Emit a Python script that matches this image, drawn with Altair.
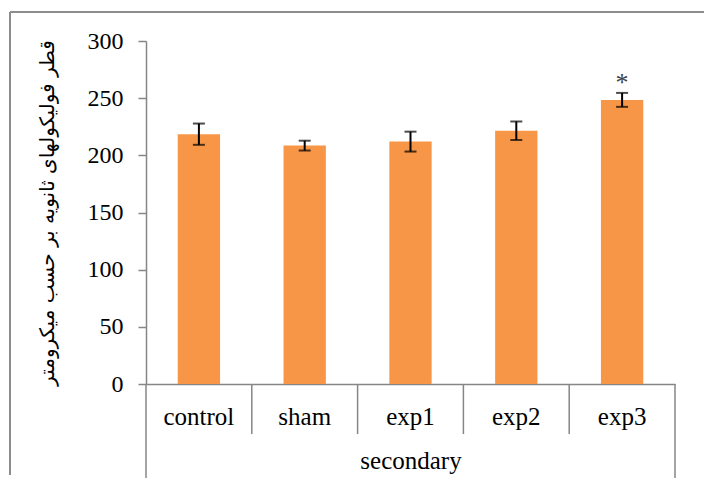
import altair as alt
import pandas as pd

categories = ["control", "sham", "exp1", "exp2", "exp3"]
means = [218.5, 208.5, 212.0, 221.5, 248.5]
errors = [9.3, 4.3, 8.7, 8.1, 6.1]
marks = ["", "", "", "", "*"]
y_ticks = [0, 50, 100, 150, 200, 250, 300]
y_title = "قطر فولیکولهای ثانویه بر حسب میکرومتر"
x_title = "secondary"

df = pd.DataFrame({
    "cat": categories,
    "mean": means,
    "lo": [m - e for m, e in zip(means, errors)],
    "hi": [m + e for m, e in zip(means, errors)],
    "mark": marks,
})
sep_df = pd.DataFrame({"cat": categories[1:]})
one = pd.DataFrame({"k": [0]})

W, H = 529, 343
GRAY = "#868686"
SERIF = "Liberation Serif"

xscale = alt.Scale(domain=categories, paddingInner=0, paddingOuter=0)
yscale = alt.Scale(domain=[0, 300], nice=False)

xenc = alt.X("cat:N", scale=xscale, sort=categories,
             axis=alt.Axis(title=x_title, labelAngle=0, ticks=False, domainColor=GRAY,
                           domainWidth=1.5, labelFont=SERIF, labelFontSize=25,
                           labelColor="black", labelPadding=20, titleFont=SERIF,
                           titleFontSize=25, titleFontWeight="normal", titleColor="black",
                           titlePadding=19))

bars = alt.Chart(df).mark_bar(color="#F79646", width=alt.RelativeBandSize(0.4)).encode(
    x=xenc,
    y=alt.Y("mean:Q", scale=yscale,
            axis=alt.Axis(title=y_title, values=y_ticks, grid=False, domainColor=GRAY,
                          domainWidth=1.5, tickColor=GRAY, tickWidth=1.5, tickSize=8,
                          labelFont=SERIF, labelFontSize=24, labelColor="black",
                          labelPadding=15, titleFont="DejaVu Sans", titleFontSize=20,
                          titleFontWeight="normal", titleColor="black", titlePadding=30)),
)

err = alt.Chart(df).mark_rule(color="black", strokeWidth=2).encode(
    x=alt.X("cat:N", scale=xscale, sort=categories),
    y=alt.Y("lo:Q", scale=yscale),
    y2="hi:Q",
)
cap_lo = alt.Chart(df).mark_tick(color="black", thickness=2, size=12, orient="horizontal").encode(
    x=alt.X("cat:N", scale=xscale, sort=categories),
    y=alt.Y("lo:Q", scale=yscale),
)
cap_hi = alt.Chart(df).mark_tick(color="black", thickness=2, size=12, orient="horizontal").encode(
    x=alt.X("cat:N", scale=xscale, sort=categories),
    y=alt.Y("hi:Q", scale=yscale),
)
star = alt.Chart(df).mark_text(font=SERIF, fontSize=26, color="#404040", baseline="middle",
                               dy=-10).encode(
    x=alt.X("cat:N", scale=xscale, sort=categories),
    y=alt.Y("hi:Q", scale=yscale),
    text="mark:N",
)

seps = alt.Chart(sep_df).mark_rule(color=GRAY, strokeWidth=1.5).encode(
    x=alt.X("cat:N", scale=xscale, sort=categories, bandPosition=0),
    y=alt.value(H),
    y2=alt.value(H + 50),
)
outer_l = alt.Chart(one).mark_rule(color=GRAY, strokeWidth=1.5).encode(
    x=alt.value(0), x2=alt.value(0), y=alt.value(H), y2=alt.value(H + 94))
outer_r = alt.Chart(one).mark_rule(color=GRAY, strokeWidth=1.5).encode(
    x=alt.value(W), x2=alt.value(W), y=alt.value(H), y2=alt.value(H + 94))
border_l = alt.Chart(one).mark_rule(color="#8c8c8c", strokeWidth=2).encode(
    x=alt.value(-136), x2=alt.value(-136), y=alt.value(-29), y2=alt.value(434))
border_t = alt.Chart(one).mark_rule(color="#8c8c8c", strokeWidth=2).encode(
    x=alt.value(-136), x2=alt.value(558), y=alt.value(-29), y2=alt.value(-29))

chart = alt.layer(bars, err, cap_lo, cap_hi, star, seps, outer_l, outer_r, border_l, border_t).properties(
    width=W, height=H, background="white",
    padding={"left": 1, "top": 3, "right": 0, "bottom": 0},
).configure_view(stroke=None)

chart.save("out.html", embed_options={"renderer": "svg", "actions": False})
